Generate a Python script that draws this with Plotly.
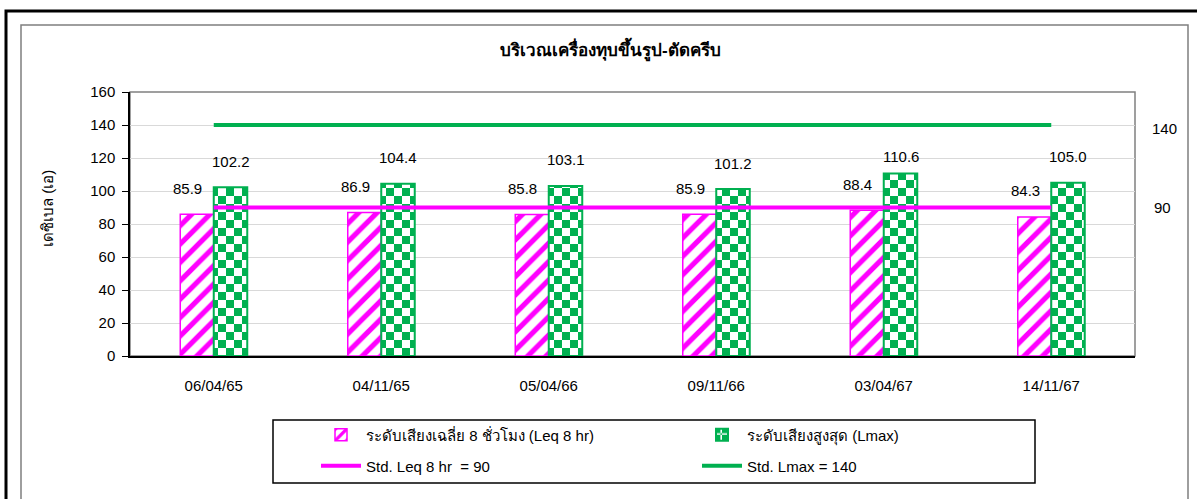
import plotly.graph_objects as go

# ---------------- data ----------------
categories = ["06/04/65", "04/11/65", "05/04/66", "09/11/66", "03/04/67", "14/11/67"]
leq_8hr = [85.9, 86.9, 85.8, 85.9, 88.4, 84.3]
lmax = [102.2, 104.4, 103.1, 101.2, 110.6, 105.0]
std_leq_value = 90
std_lmax_value = 140
std_leq = [std_leq_value] * len(categories)
std_lmax = [std_lmax_value] * len(categories)

title_text = "บริเวณเครื่องทุบขึ้นรูป-ตัดครีบ"
y_title = "เดซิเบล (เอ)"
name_leq = "ระดับเสียงเฉลี่ย 8 ชั่วโมง (Leq 8 hr)"
name_lmax = "ระดับเสียงสูงสุด (Lmax)"
name_std_leq = "Std. Leq 8 hr  = 90"
name_std_lmax = "Std. Lmax = 140"
y_ticks = [0, 20, 40, 60, 80, 100, 120, 140, 160]

# ---------------- layout helpers ----------------
W, H = 1197, 499
PL, PR, PT, PB = 130, 1135, 92, 356
FONT = "Liberation Sans, Noto Sans, DejaVu Sans, sans-serif"
MAGENTA = "#FF00FF"
GREEN = "#00B050"


def px(x):
    return (x - PL) / (PR - PL)


def py(y):
    return (PB - y) / (PB - PT)


fig = go.Figure()

checker = dict(fgcolor=GREEN, bgcolor="white", size=16, fillmode="replace")
try:
    green_marker = go.bar.Marker(
        color="white",
        line=dict(color=GREEN, width=2),
        pattern=dict(path="M0,0H8V8H0Z M8,8H16V16H8Z", **checker),
    )
except Exception:
    green_marker = go.bar.Marker(
        color="white",
        line=dict(color=GREEN, width=2),
        pattern=dict(shape="+", solidity=0.5, **checker),
    )

fig.add_trace(go.Bar(
    x=categories, y=leq_8hr, name=name_leq, legend="legend",
    marker=dict(color="white", line=dict(color=MAGENTA, width=1.5),
                pattern=dict(shape="/", fgcolor=MAGENTA, bgcolor="white",
                             size=13, solidity=0.4, fillmode="replace")),
))
fig.add_trace(go.Bar(
    x=categories, y=lmax, name=name_lmax, legend="legend",
    marker=green_marker,
))
fig.add_trace(go.Scatter(
    x=categories, y=std_leq, name=name_std_leq, legend="legend2",
    mode="lines", line=dict(color=MAGENTA, width=4),
))
fig.add_trace(go.Scatter(
    x=categories, y=std_lmax, name=name_std_lmax, legend="legend2",
    mode="lines", line=dict(color=GREEN, width=4),
))

# data labels
annotations = []
px_per_unit = (PB - PT) / 160.0
label_gap = 26 / px_per_unit
label_cap = 121
for c, v in zip(categories, leq_8hr):
    annotations.append(dict(x=c, y=min(v + label_gap, label_cap), xref="x", yref="y",
                            text=f"{v:.1f}", showarrow=False, xshift=-26,
                            xanchor="center", yanchor="middle",
                            font=dict(size=15, color="black", family=FONT)))
for c, v in zip(categories, lmax):
    annotations.append(dict(x=c, y=min(v + label_gap, label_cap), xref="x", yref="y",
                            text=f"{v:.1f}", showarrow=False, xshift=17,
                            xanchor="center", yanchor="middle",
                            font=dict(size=15, color="black", family=FONT)))
# right-side standard labels
annotations.append(dict(x=px(1164), y=std_lmax_value, xref="paper", yref="y",
                        text=str(std_lmax_value), showarrow=False, yshift=-3,
                        xanchor="center", yanchor="middle",
                        font=dict(size=15, color="black", family=FONT)))
annotations.append(dict(x=px(1162), y=std_leq_value, xref="paper", yref="y",
                        text=str(std_leq_value), showarrow=False,
                        xanchor="center", yanchor="middle",
                        font=dict(size=15, color="black", family=FONT)))
# title and y-axis title
annotations.append(dict(x=px(610), y=py(50), xref="paper", yref="paper",
                        text=f"<b>{title_text}</b>", showarrow=False,
                        xanchor="center", yanchor="middle",
                        font=dict(size=17, color="black", family=FONT)))
annotations.append(dict(x=px(47), y=py(209), xref="paper", yref="paper",
                        text=y_title, showarrow=False, textangle=-90,
                        xanchor="center", yanchor="middle",
                        font=dict(size=15, color="black", family=FONT)))

shapes = [
    # outer black frame
    dict(type="rect", xref="paper", yref="paper", x0=px(6), x1=px(1260),
         y0=py(600), y1=py(11), line=dict(color="black", width=3), layer="below"),
    # inner grey frame
    dict(type="rect", xref="paper", yref="paper", x0=px(21), x1=px(1188),
         y0=py(600), y1=py(25), line=dict(color="#7F7F7F", width=1.5), layer="below"),
    # plot area frame
    dict(type="rect", xref="paper", yref="paper", x0=0, x1=1, y0=0, y1=1,
         line=dict(color="#808080", width=1.5), layer="below"),
    # legend box
    dict(type="rect", xref="paper", yref="paper", x0=px(273), x1=px(1035),
         y0=py(483), y1=py(420), line=dict(color="black", width=1.5)),
]

legend_common = dict(orientation="h", entrywidth=326, entrywidthmode="pixels",
                     bgcolor="rgba(0,0,0,0)", borderwidth=0,
                     font=dict(size=15, color="black", family=FONT),
                     xanchor="left", yanchor="middle", itemwidth=40)

fig.update_layout(
    width=W, height=H,
    margin=dict(l=PL, r=W - PR, t=PT, b=H - PB, pad=0),
    paper_bgcolor="white", plot_bgcolor="white",
    barmode="group", bargap=0.6, bargroupgap=0,
    font=dict(family=FONT, size=15, color="black"),
    showlegend=True,
    legend=dict(x=px(316), y=py(435), **legend_common),
    legend2=dict(x=px(316), y=py(466), **legend_common),
    annotations=annotations,
    shapes=shapes,
    xaxis=dict(type="category", showline=True, linecolor="black", linewidth=1.5,
               ticks="", showgrid=False, ticklabelstandoff=15,
               tickfont=dict(size=15, family=FONT, color="black")),
    yaxis=dict(range=[0, 160], tickvals=y_ticks, showline=True, linecolor="black",
               linewidth=1.5, ticks="outside", ticklen=6, tickcolor="black",
               showgrid=True, gridcolor="#D9D9D9", gridwidth=1, zeroline=False,
               tickfont=dict(size=15, family=FONT, color="black"), ticklabelstandoff=4),
)

fig.write_html(
    "out.html",
    config={"displayModeBar": False},
    post_script="document.body.style.margin='0';document.body.style.overflow='hidden';",
)
